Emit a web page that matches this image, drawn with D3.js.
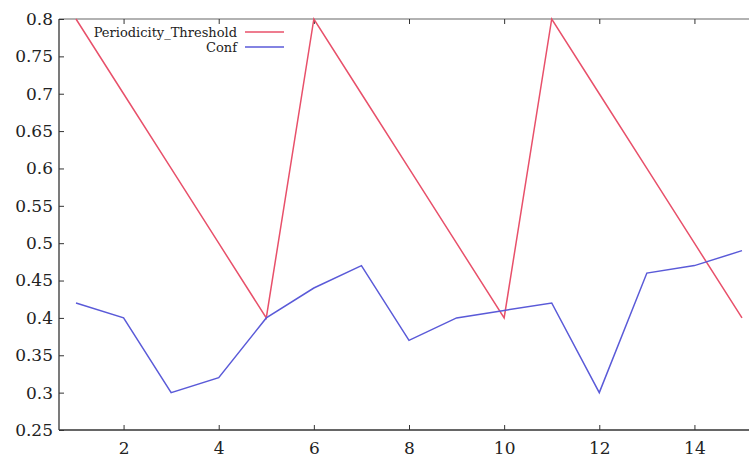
<!DOCTYPE html>
<html><head><meta charset="utf-8">
<script src="https://cdn.jsdelivr.net/npm/d3@7"></script>
<style>body{margin:0;background:#fff}svg{display:block}</style>
</head><body><svg id="c" width="749" height="457"></svg>
<script>
const xs = [1,2,3,4,5,6,7,8,9,10,11,12,13,14,15];
const threshold = [0.8,0.7,0.6,0.5,0.4,0.8,0.7,0.6,0.5,0.4,0.8,0.7,0.6,0.5,0.4];
const conf = [0.42,0.40,0.30,0.32,0.40,0.44,0.47,0.37,0.40,0.41,0.42,0.30,0.46,0.47,0.49];
const xTicks = [2,4,6,8,10,12,14];
const yTicks = [0.25,0.3,0.35,0.4,0.45,0.5,0.55,0.6,0.65,0.7,0.75,0.8];
const seriesNames = ["Periodicity_Threshold","Conf"];
const colors = ["#e8506a","#5a5ad8"];
const FONT = "'DejaVu Serif', serif";

const svg = d3.select("#c");
const pLeft = 59, pRight = 749, pTop = 19, pBottom = 430;
const x = d3.scaleLinear().domain([1,15]).range([76,742]);
const y = d3.scaleLinear().domain([0.25,0.8]).range([pBottom, pTop]);

const axisColor = "#333";
svg.append("line").attr("x1",pLeft).attr("x2",pLeft).attr("y1",pTop).attr("y2",pBottom).attr("stroke",axisColor).attr("stroke-width",1.3);
svg.append("line").attr("x1",pLeft).attr("x2",pRight).attr("y1",pBottom).attr("y2",pBottom).attr("stroke",axisColor).attr("stroke-width",1.3);
svg.append("line").attr("x1",pLeft).attr("x2",pRight).attr("y1",pTop).attr("y2",pTop).attr("stroke","#666").attr("stroke-width",1.1);

const ya = svg.append("g").attr("transform",`translate(${pLeft},0)`)
  .call(d3.axisRight(y).tickValues(yTicks).tickFormat(d=>String(+d.toFixed(2))).tickSize(5));
ya.select(".domain").remove();
ya.attr("font-family",FONT).attr("font-size",17);
ya.selectAll("line").attr("stroke",axisColor);
ya.selectAll("text").attr("text-anchor","end").attr("x",-6).attr("fill","#222");

const xa = svg.append("g").attr("transform",`translate(0,${pBottom})`)
  .call(d3.axisTop(x).tickValues(xTicks).tickSize(5));
xa.select(".domain").remove();
xa.attr("font-family",FONT).attr("font-size",17);
xa.selectAll("line").attr("stroke",axisColor);
xa.selectAll("text").attr("y",24).attr("dy",null).attr("fill","#222");

const xt = svg.append("g").attr("transform",`translate(0,${pTop})`)
  .call(d3.axisBottom(x).tickValues(xTicks).tickSize(5).tickFormat(""));
xt.select(".domain").remove();
xt.selectAll("line").attr("stroke",axisColor);

const line = d3.line().x((d,i)=>x(xs[i])).y(d=>y(d));
[threshold, conf].forEach((s,k)=>{
  svg.append("path").datum(s).attr("d",line).attr("fill","none").attr("stroke",colors[k]).attr("stroke-width",1.5);
});

const lg = svg.append("g").attr("font-family",FONT).attr("font-size",13);
seriesNames.forEach((n,k)=>{
  const ly = 32 + k*15;
  lg.append("text").attr("x",237).attr("y",ly+5).attr("text-anchor","end").attr("fill","#222").text(n);
  lg.append("line").attr("x1",245).attr("x2",284).attr("y1",ly).attr("y2",ly).attr("stroke",colors[k]).attr("stroke-width",1.5);
});
</script></body></html>
